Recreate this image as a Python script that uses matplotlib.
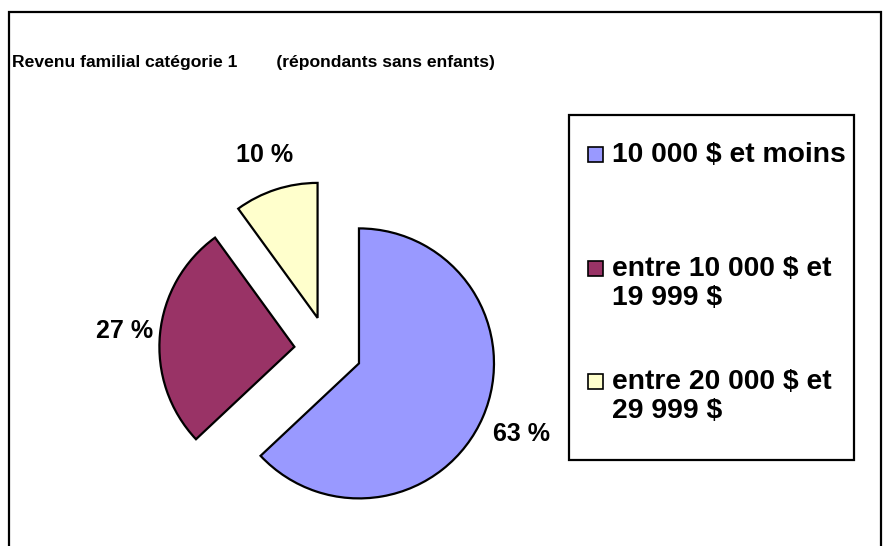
"""Pie chart: family income, category 1 (respondents without children)."""

import numpy as np
import matplotlib.pyplot as plt
from matplotlib.patches import Rectangle

categories = ["10 000 $ et moins", "entre 10 000 $ et\n19 999 $", "entre 20 000 $ et\n29 999 $"]
shares = [63, 27, 10]
colors = ["#9999FF", "#993366", "#FFFFCC"]
title = "Revenu familial catégorie 1        (répondants sans enfants)"

FONT = "Liberation Sans"
W, H = 883, 546

fig = plt.figure(figsize=(W / 100, H / 100), dpi=100, facecolor="white")

# outer chart frame (bottom edge falls outside the image)
fig.patches.append(Rectangle((9 / W, -0.05), (881 - 9) / W, 1.05 - 12 / H,
                             transform=fig.transFigure, fill=False,
                             edgecolor="black", linewidth=1.6))

fig.text(12 / W, 1 - 67 / H, title, ha="left", va="baseline",
         fontsize=12.6, fontweight="bold", family=FONT)

# pie axes: centre at (328, 350) px, radius 135 px
half = 180
ax = fig.add_axes([(328 - half) / W, (H - 350 - half) / H, 2 * half / W, 2 * half / H])
wedges, _ = ax.pie(shares, colors=colors, startangle=90, counterclock=False,
                   explode=[0.25] * len(shares),
                   wedgeprops={"edgecolor": "black", "linewidth": 1.6})
lim = half / 135
ax.set_xlim(-lim, lim)
ax.set_ylim(-lim, lim)
ax.axis("off")

label_dist = [1.56, 1.51, 1.52]
for wedge, value, dist in zip(wedges, shares, label_dist):
    mid = np.deg2rad((wedge.theta1 + wedge.theta2) / 2)
    ax.text(dist * np.cos(mid), dist * np.sin(mid), f"{value} %",
            ha="center", va="center", fontsize=18, fontweight="bold",
            family=FONT)

# legend box drawn like the spreadsheet one
fig.patches.append(Rectangle((569 / W, 1 - 460 / H), (854 - 569) / W, (460 - 115) / H,
                             transform=fig.transFigure, fill=False,
                             edgecolor="black", linewidth=1.6))
tops = [142, 256, 369]
for label, color, top in zip(categories, colors, tops):
    fig.patches.append(Rectangle((588 / W, 1 - (top + 20) / H), 15 / W, 15 / H,
                                 transform=fig.transFigure, facecolor=color,
                                 edgecolor="black", linewidth=1.2))
    fig.text(612 / W, 1 - top / H, label, ha="left", va="top",
             fontsize=20.3, fontweight="bold", family=FONT, linespacing=1.15)

fig.savefig("out.png", dpi=100, facecolor="white")
